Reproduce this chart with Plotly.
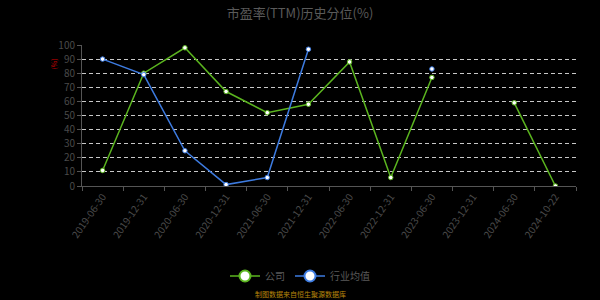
import plotly.graph_objects as go

# Report dates on the category axis
dates = ["2019-06-30", "2019-12-31", "2020-06-30", "2020-12-31", "2021-06-30",
         "2021-12-31", "2022-06-30", "2022-12-31", "2023-06-30", "2023-12-31",
         "2024-06-30", "2024-10-22"]

# PE(TTM) historical percentile, company vs. industry average
company = [11, 80, 98, 67, 52, 58, 88, 6, 77, None, 59, 0]
industry = [90, 79, 25, 1, 6, 97, None, None, 83, None, None, None]

y_ticks = [0, 10, 20, 30, 40, 50, 60, 70, 80, 90, 100]

GREEN = "#5bb51f"
BLUE = "#3d7be0"
FONT = "Noto Sans CJK SC, Noto Sans, sans-serif"

# plot area in pixels
L, R, T, B = 82, 24, 45, 114
PW, PH = 600 - L - R, 300 - T - B

fig = go.Figure()

for name, vals, color in [("公司", company, GREEN), ("行业均值", industry, BLUE)]:
    fig.add_trace(go.Scatter(
        x=dates, y=vals, mode="lines+markers", name=name,
        line=dict(color=color, width=1.5),
        marker=dict(symbol="circle", size=4.5, color="white",
                    line=dict(color=color, width=1)),
        connectgaps=False, showlegend=False,
    ))
    # legend entry with a larger symbol
    fig.add_trace(go.Scatter(
        x=[None], y=[None], mode="lines+markers", name=name,
        line=dict(color=color, width=1.5),
        marker=dict(symbol="circle", size=11, color="white",
                    line=dict(color=color, width=2)),
        showlegend=True,
    ))

fig.update_layout(
    width=600, height=300,
    margin=dict(l=L, r=R, t=T, b=B, autoexpand=False),
    paper_bgcolor="black", plot_bgcolor="black",
    font=dict(family=FONT, color="#5a5a5a", size=10),
    title=dict(text="市盈率(TTM)历史分位(%)", x=0.5, xanchor="center",
               y=1 - 13 / 300, yanchor="middle",
               font=dict(size=13, color="#5a5a5a", family=FONT)),
    legend=dict(orientation="h", x=(300 - L) / PW, xanchor="center",
                y=-(276 - (T + PH)) / PH, yanchor="middle",
                font=dict(size=10, color="#5a5a5a"),
                bgcolor="rgba(0,0,0,0)", itemwidth=30),
    showlegend=True,
)

fig.update_xaxes(
    type="category", categoryorder="array", categoryarray=dates,
    range=[-0.5, len(dates) - 0.5],
    tickson="boundaries", ticks="outside", ticklen=4, tickcolor="#555",
    showline=True, linecolor="#555", linewidth=1,
    showgrid=False, zeroline=False,
    tickangle=-55, tickfont=dict(size=10, color="#4a4a4a"),
)

fig.update_yaxes(
    range=[0, 100], tickvals=y_ticks,
    ticks="outside", ticklen=4, tickcolor="#555",
    showline=True, linecolor="#555", linewidth=1,
    showgrid=True, gridcolor="#c8c8c8", griddash="4px,3px", gridwidth=1,
    zeroline=False, tickfont=dict(size=10, color="#4a4a4a"),
)

fig.add_annotation(text="(%)", xref="paper", yref="paper",
                   x=-22 / PW, y=(T + PH - 57) / PH, xanchor="right",
                   textangle=-90, showarrow=False,
                   font=dict(size=7, color="#cc0000"))

fig.add_annotation(text="制图数据来自恒生聚源数据库", xref="paper", yref="paper",
                   x=(300 - L) / PW, y=-(294 - (T + PH)) / PH,
                   xanchor="center", yanchor="middle",
                   showarrow=False, font=dict(size=7, color="#b8860b"))

fig.write_html("out.html")
